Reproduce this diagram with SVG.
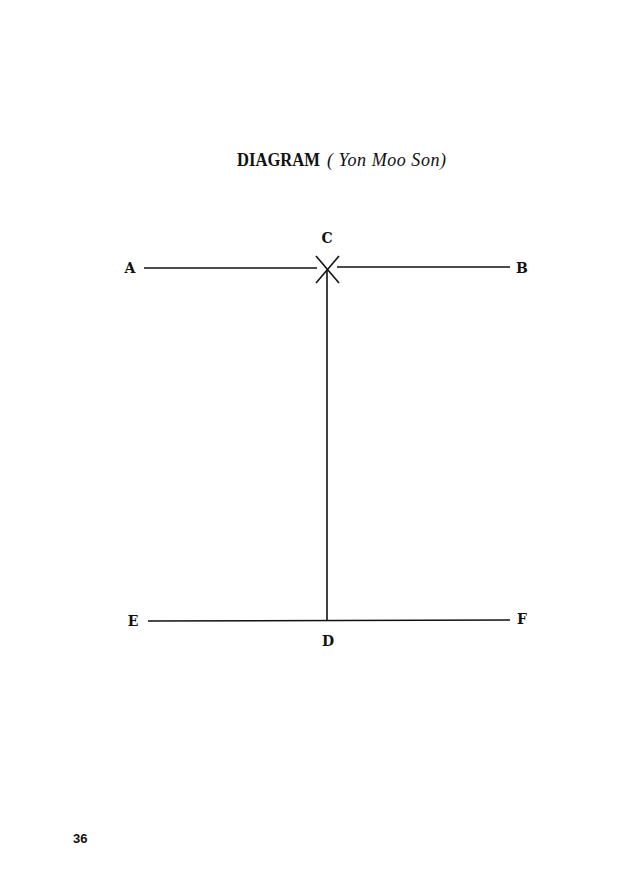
<svg xmlns="http://www.w3.org/2000/svg" width="640" height="885" viewBox="0 0 640 885">
<style>
.lbl{font-family:"DejaVu Serif","Liberation Serif",serif;font-weight:bold;font-size:14px;fill:#111;text-anchor:middle}
.ln{stroke:#111;stroke-width:1.6;fill:none}
.ttl{font-family:"Liberation Serif","DejaVu Serif",serif;font-size:18px;fill:#111}
</style>
<rect width="640" height="885" fill="#fff"/>
<text class="ttl" x="237" y="166" font-weight="bold" textLength="83" lengthAdjust="spacingAndGlyphs">DIAGRAM</text>
<text class="ttl" x="327" y="166" font-style="italic" textLength="119" lengthAdjust="spacing">( Yon Moo Son)</text>
<g id="connectors">
<line class="ln" x1="144" y1="268" x2="317" y2="268"/>
<line class="ln" x1="337" y1="267" x2="510" y2="267"/>
<line class="ln" x1="316" y1="256" x2="339" y2="283"/>
<line class="ln" x1="339" y1="256" x2="316" y2="283"/>
<line class="ln" x1="327" y1="270" x2="327" y2="621"/>
<line class="ln" x1="148" y1="621" x2="510" y2="620"/>
</g>
<g id="A"><text class="lbl" x="130" y="273">A</text></g>
<g id="B"><text class="lbl" x="522" y="273">B</text></g>
<g id="C"><text class="lbl" x="327" y="243">C</text></g>
<g id="D"><text class="lbl" x="328" y="646">D</text></g>
<g id="E"><text class="lbl" x="133" y="626">E</text></g>
<g id="F"><text class="lbl" x="522" y="624">F</text></g>
<text x="73" y="843" font-family="Liberation Sans, Arial, sans-serif" font-weight="bold" font-size="13" fill="#111">36</text>
</svg>
